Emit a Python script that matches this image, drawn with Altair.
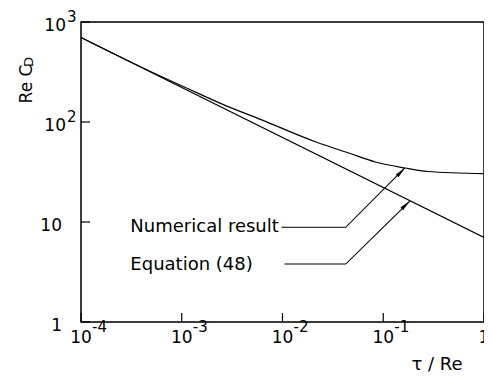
import altair as alt
import pandas as pd

# ---- data ----
eq_x = [1e-4, 1.0]
eq_y = [700.0, 7.0]

num_x = [1e-4, 4.34e-4, 1.146e-3, 2.52e-3, 6.22e-3, 0.0215, 0.0454, 0.0836, 0.164, 0.276, 1.0]
num_y = [700, 339, 216, 151, 105, 63.1, 49.0, 39.8, 34.7, 32.0, 30.5]

x_ticks = [1e-4, 1e-3, 1e-2, 1e-1, 1.0]
x_base = ["10", "10", "10", "10", "1"]
x_exp = ["-4", "-3", "-2", "-1", ""]

y_ticks = [1, 10, 100, 1000]
y_base = ["1", "10", "10", "10"]
y_exp = ["", "", "2", "3"]

ann_labels = ["Numerical result", "Equation (48)"]
ann_text_x = [3.09e-4, 3.09e-4]
ann_text_y = [8.0, 3.31]
ann_start_x = [0.00977, 0.01047]
ann_elbow_x = [0.0424, 0.0424]
ann_line_y = [8.85, 3.80]
ann_tip_x = [0.164, 0.184]
ann_tip_y = [34.7, 16.2]
ann_head_x = [0.150, 0.167]
ann_head_y = [31.7, 14.8]

FONT = "DejaVu Sans"

# ---- tables ----
eq_df = pd.DataFrame({"x": eq_x, "y": eq_y})
num_df = pd.DataFrame({"x": num_x, "y": num_y})
xt_df = pd.DataFrame({"v": x_ticks, "b": x_base, "e": x_exp})
yt_df = pd.DataFrame({"v": y_ticks, "b": y_base, "e": y_exp})
ann_df = pd.DataFrame({"label": ann_labels, "x": ann_text_x, "y": ann_text_y})
lead_rows = []
for i, lab in enumerate(ann_labels):
    lead_rows.append({"label": lab, "o": 0, "x": ann_start_x[i], "y": ann_line_y[i]})
    lead_rows.append({"label": lab, "o": 1, "x": ann_elbow_x[i], "y": ann_line_y[i]})
    lead_rows.append({"label": lab, "o": 2, "x": ann_tip_x[i], "y": ann_tip_y[i]})
lead_df = pd.DataFrame(lead_rows)
head_df = pd.DataFrame({"label": ann_labels, "x": ann_head_x, "y": ann_head_y})

xs = alt.Scale(type="log", domain=[1e-4, 1.0], nice=False)
ys = alt.Scale(type="log", domain=[1, 1000], nice=False)

X = lambda f="x": alt.X(f"{f}:Q", scale=xs, axis=None)
Y = lambda f="y": alt.Y(f"{f}:Q", scale=ys, axis=None)

W, H = 403, 300

frame = alt.Chart(pd.DataFrame({"k": [0]})).mark_rect(
    filled=False, stroke="black", strokeWidth=1.5).encode(
    x=alt.value(0), x2=alt.value(W), y=alt.value(0), y2=alt.value(H))

eq_line = alt.Chart(eq_df).mark_line(color="black", strokeWidth=1.2).encode(x=X(), y=Y())
num_line = alt.Chart(num_df).mark_line(color="black", strokeWidth=1.2, interpolate="monotone").encode(
    x=X(), y=Y())

leaders = alt.Chart(lead_df).mark_line(color="black", strokeWidth=1.1).encode(
    x=X(), y=Y(), detail="label:N", order="o:Q")

heads = alt.Chart(head_df).mark_point(
    shape="M0,-1L0.35,1L-0.35,1Z", filled=True, size=121, angle=45,
    color="black", opacity=1).encode(x=X(), y=Y())

ann_text = alt.Chart(ann_df).mark_text(
    align="left", baseline="alphabetic", font=FONT, fontSize=18, color="black").encode(
    x=X(), y=Y(), text="label:N")

x_tick_rules = alt.Chart(xt_df).mark_rule(color="black", strokeWidth=1.2).encode(
    x=X("v"), y=alt.value(H), y2=alt.value(H - 9))
y_tick_rules = alt.Chart(yt_df).mark_rule(color="black", strokeWidth=1.2).encode(
    y=Y("v"), x=alt.value(0), x2=alt.value(9))

x_lab_base = alt.Chart(xt_df).mark_text(
    align="center", baseline="alphabetic", font=FONT, fontSize=17, color="black").encode(
    x=X("v"), y=alt.value(H + 21), text="b:N")
x_lab_exp = alt.Chart(xt_df).mark_text(
    align="left", baseline="alphabetic", font=FONT, fontSize=15, color="black", dx=11).encode(
    x=X("v"), y=alt.value(H + 10), text="e:N")

y_lab_base_exp = alt.Chart(yt_df).transform_filter("datum.e != ''").mark_text(
    align="right", baseline="alphabetic", font=FONT, fontSize=17, color="black", dy=9).encode(
    y=Y("v"), x=alt.value(-15), text="b:N")
y_lab_base_plain = alt.Chart(yt_df).transform_filter("datum.e == ''").mark_text(
    align="right", baseline="alphabetic", font=FONT, fontSize=17, color="black", dy=9).encode(
    y=Y("v"), x=alt.value(-19), text="b:N")
y_lab_exp = alt.Chart(yt_df).mark_text(
    align="left", baseline="alphabetic", font=FONT, fontSize=15, color="black", dy=0).encode(
    y=Y("v"), x=alt.value(-14), text="e:N")

x_title = alt.Chart(pd.DataFrame({"t": ["τ / Re"]})).mark_text(
    align="center", baseline="alphabetic", font=FONT, fontSize=18, color="black").encode(
    x=alt.value(356), y=alt.value(H + 48), text="t:N")
y_title = alt.Chart(pd.DataFrame({"t": ["Re C"]})).mark_text(
    align="center", baseline="alphabetic", font=FONT, fontSize=17, color="black", angle=270).encode(
    x=alt.value(-49), y=alt.value(62), text="t:N")
y_title_sub = alt.Chart(pd.DataFrame({"t": ["D"]})).mark_text(
    align="left", baseline="alphabetic", font=FONT, fontSize=13, color="black", angle=270).encode(
    x=alt.value(-48), y=alt.value(45), text="t:N")

chart = alt.layer(
    frame, eq_line, num_line, leaders, heads, ann_text,
    x_tick_rules, y_tick_rules,
    x_lab_base, x_lab_exp, y_lab_base_exp, y_lab_base_plain, y_lab_exp,
    x_title, y_title, y_title_sub,
).properties(
    width=W, height=H,
    autosize=alt.AutoSizeParams(type="none"),
    padding={"left": 73, "top": 14, "right": 0, "bottom": 52},
).configure_view(
    strokeWidth=0
).configure(background="white")

chart.save("out.html", embed_options={"renderer": "svg", "actions": False})
